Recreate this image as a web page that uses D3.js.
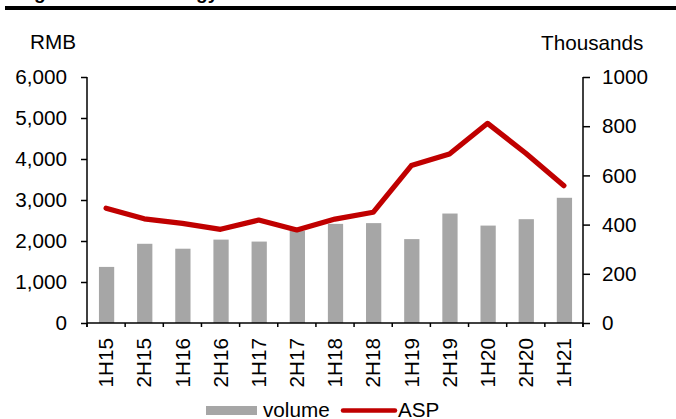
<!DOCTYPE html>
<html>
<head>
<meta charset="utf-8">
<script src="https://cdn.jsdelivr.net/npm/d3@7"></script>
<style>
  html, body { margin: 0; padding: 0; background: #fff; }
  svg { display: block; font-family: "Liberation Sans", Arial, sans-serif; }
</style>
</head>
<body>
<svg id="chart" width="676" height="419"></svg>
<script>
const categories = ["1H15","2H15","1H16","2H16","1H17","2H17","1H18","2H18","1H19","2H19","1H20","2H20","1H21"];
const volume = [228, 322, 302, 339, 331, 375, 403, 406, 341, 445, 396, 422, 509];   // Thousands (right axis)
const asp = [2800, 2540, 2430, 2285, 2510, 2270, 2535, 2700, 3840, 4120, 4870, 4140, 3350]; // RMB (left axis)
const leftTicks = [0, 1000, 2000, 3000, 4000, 5000, 6000];
const rightTicks = [0, 200, 400, 600, 800, 1000];
const seriesNames = ["volume", "ASP"];
const titleText = "Figure 12: Technology";

(function () {
const svg = d3.select("#chart");
const pL = 87, pR = 583, pT = 77, pB = 323;
const fs = 20.7;

// Title (cropped at the top edge, as in the source) and rule
svg.append("text").attr("x", 17).attr("y", -1)
  .attr("font-size", 19).attr("font-weight", "bold").text(titleText);
svg.append("rect").attr("x", 5).attr("y", 6).attr("width", 671).attr("height", 4).attr("fill", "#000");

const x = d3.scaleBand().domain(categories).range([pL, pR]).padding(0);
const yL = d3.scaleLinear().domain([0, 6000]).range([pB, pT]);
const yR = d3.scaleLinear().domain([0, 1000]).range([pB, pT]);

// Bars
const bw = x.bandwidth() * 0.4;
svg.append("g").selectAll("rect").data(categories).join("rect")
  .attr("x", (d) => x(d) + x.bandwidth() / 2 - bw / 2 + 0.5)
  .attr("y", (d, i) => yR(volume[i]))
  .attr("width", bw)
  .attr("height", (d, i) => pB - yR(volume[i]))
  .attr("fill", "#A6A6A6");

// Line
const line = d3.line()
  .x((d, i) => x(categories[i]) + x.bandwidth() / 2)
  .y((d) => yL(d));
svg.append("path").datum(asp).attr("d", line)
  .attr("fill", "none").attr("stroke", "#C00000").attr("stroke-width", 5.2)
  .attr("stroke-linejoin", "round").attr("stroke-linecap", "round");

// Left axis
const gL = svg.append("g").attr("transform", `translate(${pL},0)`)
  .call(d3.axisLeft(yL).tickValues(leftTicks).tickFormat(d3.format(",")).tickSizeInner(6).tickSizeOuter(0).tickPadding(14));
// Right axis
const gR = svg.append("g").attr("transform", `translate(${pR},0)`)
  .call(d3.axisRight(yR).tickValues(rightTicks).tickFormat(d3.format("d")).tickSizeInner(7).tickSizeOuter(0).tickPadding(12));
// Bottom axis
const gB = svg.append("g").attr("transform", `translate(0,${pB})`)
  .call(d3.axisBottom(x).tickSize(0).tickPadding(0));
const bounds = categories.map((c) => x(c)).concat([pR]);
gB.selectAll(".btick").data(bounds).join("line").attr("class", "btick")
  .attr("x1", (d) => d).attr("x2", (d) => d).attr("y1", 0).attr("y2", 4)
  .attr("stroke", "#000").attr("stroke-width", 1.5);
gB.selectAll(".tick text")
  .attr("transform", "rotate(-90)")
  .attr("x", -15).attr("y", 0).attr("dy", "0.35em")
  .attr("text-anchor", "end");

[gL, gR, gB].forEach((g) => {
  g.selectAll(".domain").attr("stroke", "#000").attr("stroke-width", 1.5);
  g.selectAll(".tick line").attr("stroke", "#000").attr("stroke-width", 1.5);
  g.selectAll("text").attr("font-size", fs).attr("fill", "#000")
    .attr("font-family", "Liberation Sans, Arial, sans-serif");
});
gB.select(".domain").attr("d", `M${pL},0H${pR}`);
gL.select(".domain").attr("d", `M0,${pT}V${pB + 4}`);
gR.select(".domain").attr("d", `M0,${pT}V${pB + 4}`);

// Axis unit labels
svg.append("text").attr("x", 30).attr("y", 49).attr("font-size", fs).text("RMB");
svg.append("text").attr("x", 541).attr("y", 50).attr("font-size", fs).text("Thousands");

// Legend
const lg = svg.append("g");
lg.append("rect").attr("x", 206).attr("y", 406).attr("width", 51).attr("height", 9).attr("fill", "#A6A6A6");
lg.append("text").attr("x", 263).attr("y", 416.5).attr("font-size", fs).text(seriesNames[0]);
lg.append("line").attr("x1", 343).attr("x2", 395).attr("y1", 410.5).attr("y2", 410.5)
  .attr("stroke", "#C00000").attr("stroke-width", 4.5).attr("stroke-linecap", "round");
lg.append("text").attr("x", 398).attr("y", 416.5).attr("font-size", fs).text(seriesNames[1]);
})();
</script>
</body>
</html>
